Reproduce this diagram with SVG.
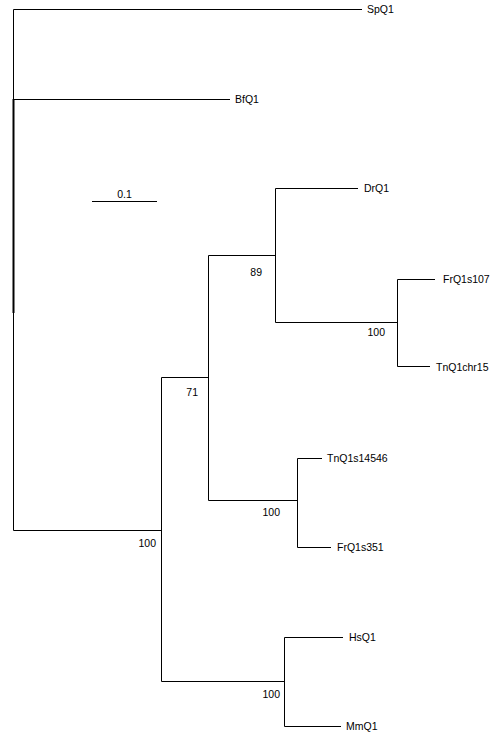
<svg xmlns="http://www.w3.org/2000/svg" width="499" height="735" viewBox="0 0 499 735">
<style>
.br{stroke:#000;stroke-width:1;fill:none}
text{font-family:"Liberation Sans",Arial,sans-serif;font-size:10.5px;fill:#000}
.bs{text-anchor:end}
</style>
<rect width="499" height="735" fill="#fff"/>
<g id="connectors">
<path class="br" d="M13.5,9.5V530.5M13.5,9.5H362M13.5,99.5H230"/>
<path d="M13.5,99V313" stroke="#000" stroke-width="2"/>
<path class="br" d="M13.5,530.5H161.5M161.5,377.5V681.5"/>
<path class="br" d="M161.5,377.5H208.5M208.5,255.5V500.5"/>
<path class="br" d="M208.5,255.5H275.5M275.5,188.5V322.5M275.5,188.5H358"/>
<path class="br" d="M275.5,322.5H397.5M397.5,279.5V366.5M397.5,279.5H435M397.5,366.5H430"/>
<path class="br" d="M208.5,500.5H297.5M297.5,458.5V547.5M297.5,458.5H322M297.5,547.5H331"/>
<path class="br" d="M161.5,681.5H284.5M284.5,637.5V726.5M284.5,637.5H343M284.5,726.5H341"/>
<path class="br" d="M92,201.5H157"/>
</g>
<g id="scale"><text x="124.5" y="198" text-anchor="middle">0.1</text></g>
<g id="SpQ1"><text x="367" y="13">SpQ1</text></g>
<g id="BfQ1"><text x="235" y="103">BfQ1</text></g>
<g id="DrQ1"><text x="364" y="192">DrQ1</text></g>
<g id="FrQ1s107"><text x="443" y="283">FrQ1s107</text></g>
<g id="TnQ1chr15"><text x="436" y="370.5">TnQ1chr15</text></g>
<g id="TnQ1s14546"><text x="327" y="462">TnQ1s14546</text></g>
<g id="FrQ1s351"><text x="337" y="551">FrQ1s351</text></g>
<g id="HsQ1"><text x="349" y="641">HsQ1</text></g>
<g id="MmQ1"><text x="346" y="730">MmQ1</text></g>
<g id="bootstrap">
<text class="bs" x="156" y="547">100</text>
<text class="bs" x="198" y="396">71</text>
<text class="bs" x="262" y="276">89</text>
<text class="bs" x="385" y="336">100</text>
<text class="bs" x="280" y="516">100</text>
<text class="bs" x="280" y="698">100</text>
</g>
</svg>
